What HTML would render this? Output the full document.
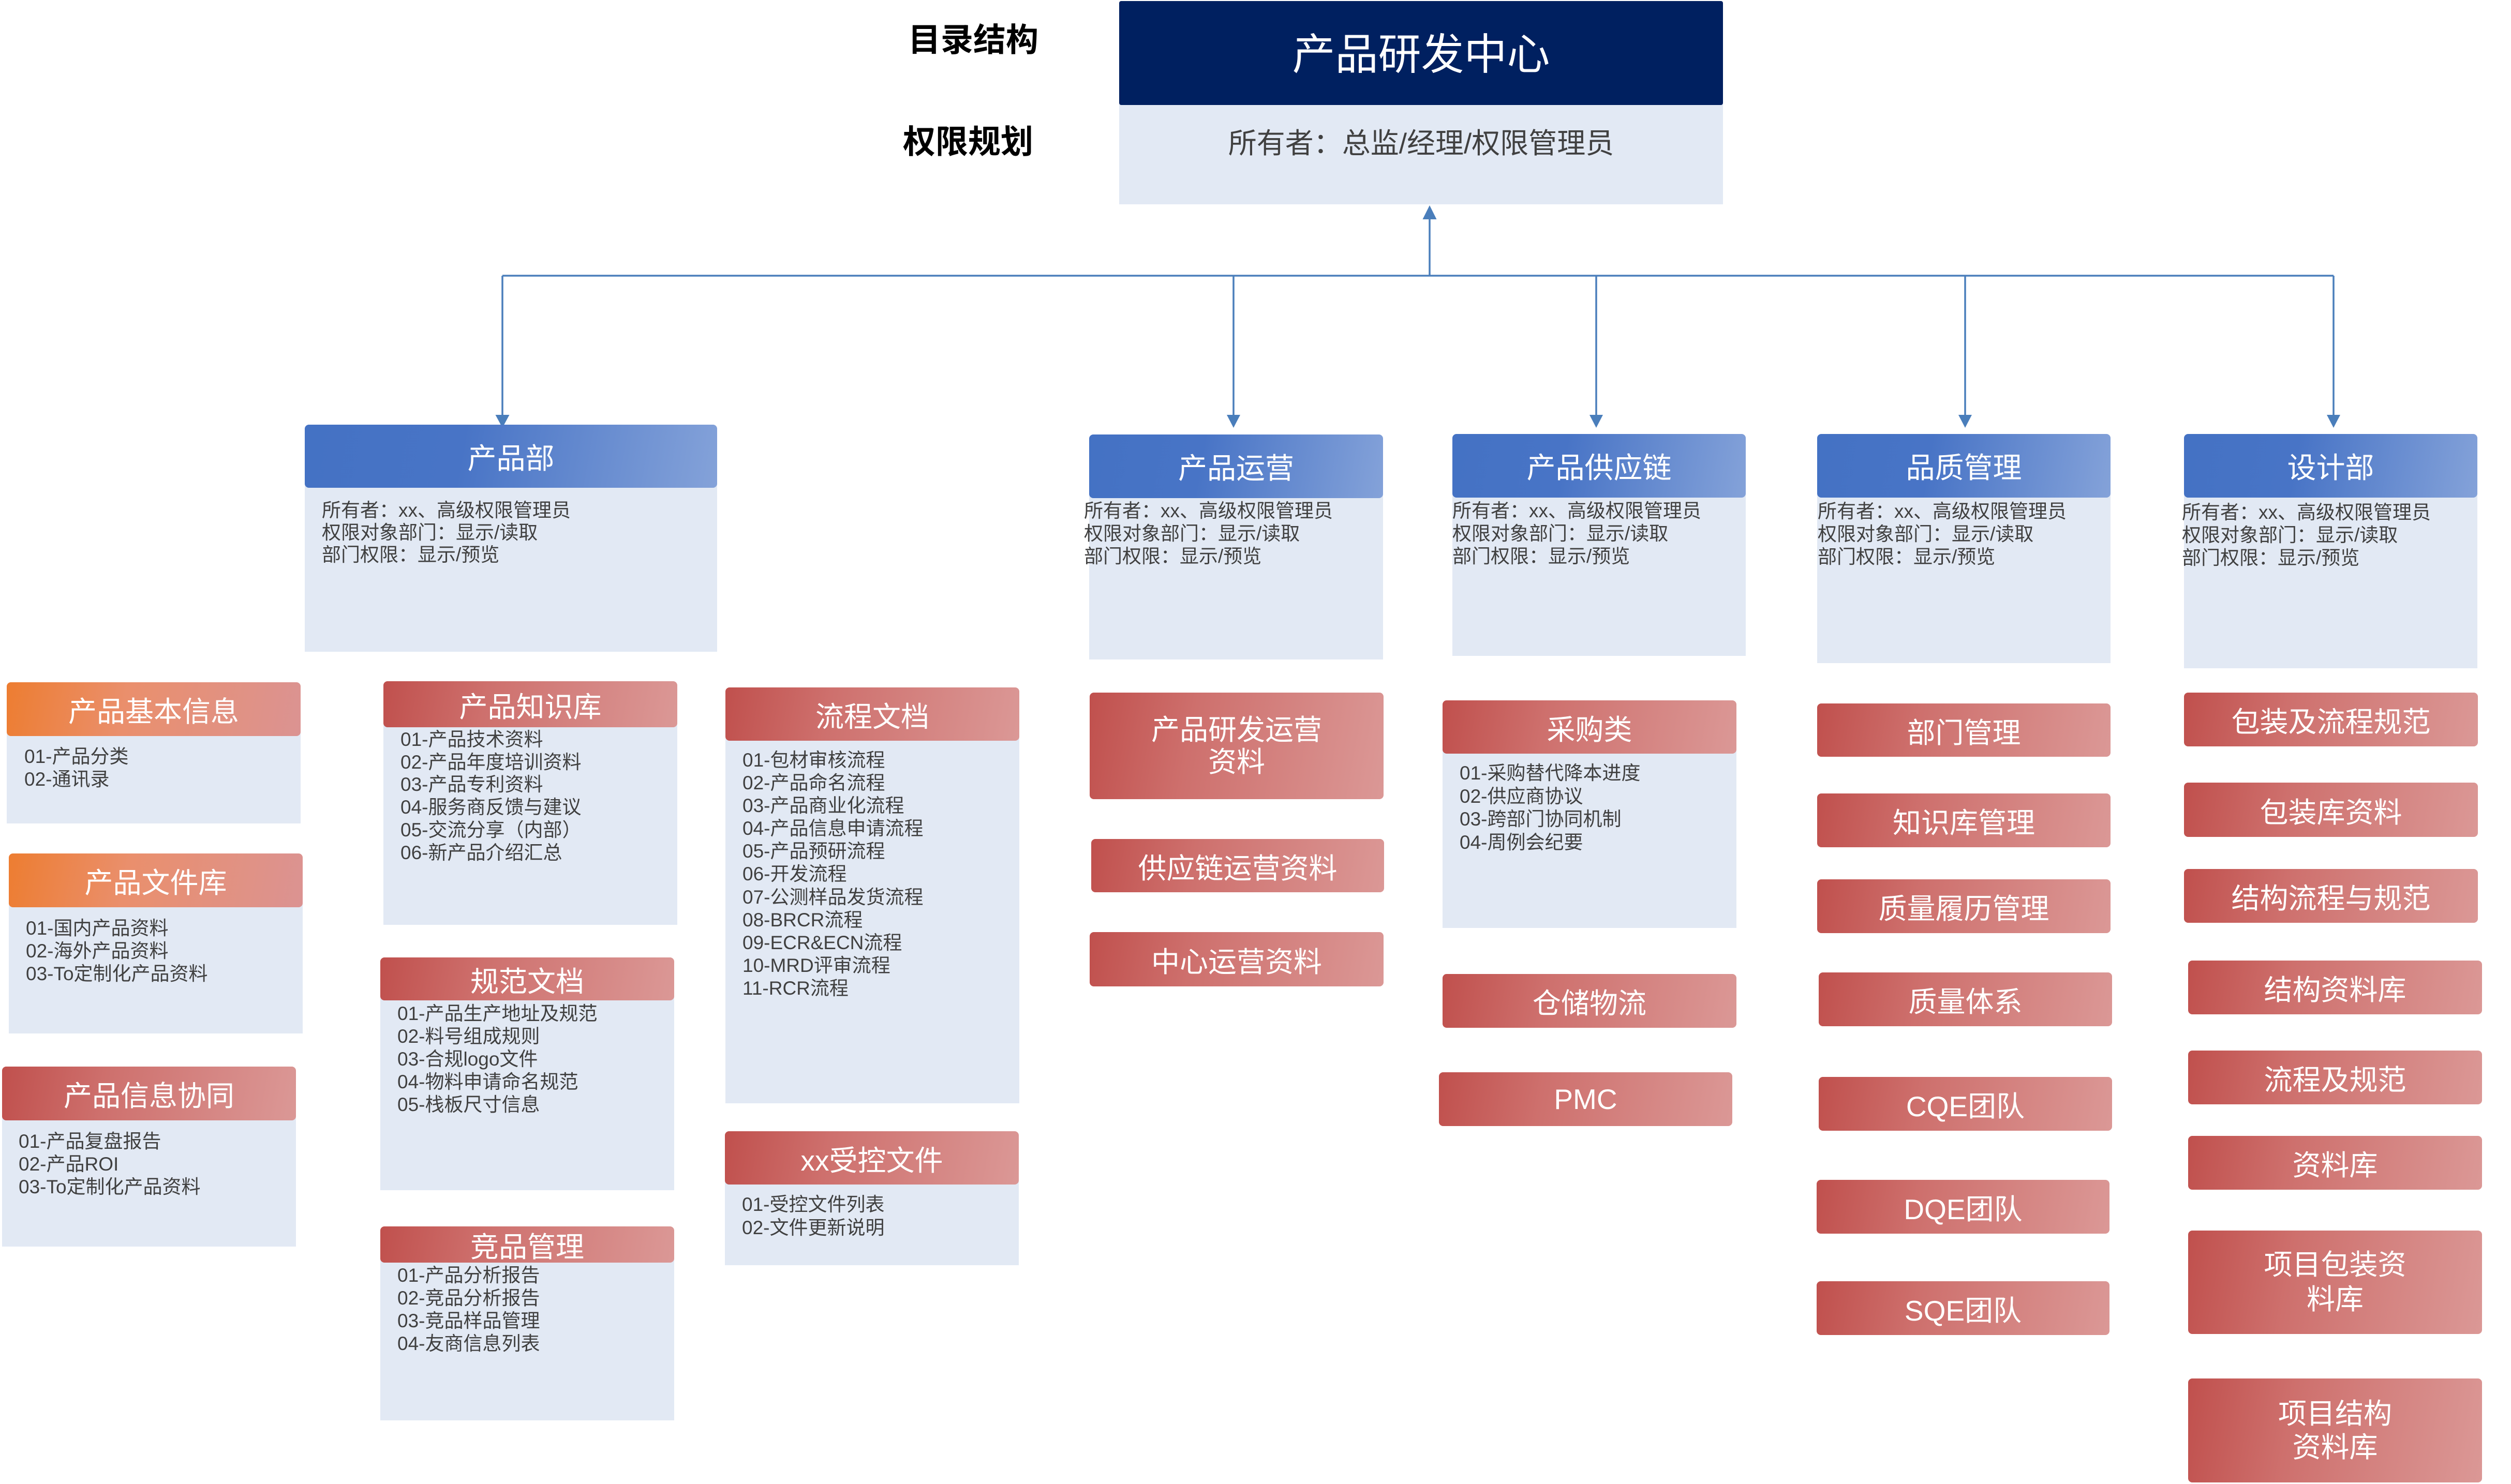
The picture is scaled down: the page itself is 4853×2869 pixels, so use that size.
<!DOCTYPE html>
<html><head><meta charset="utf-8"><style>
*{margin:0;padding:0;box-sizing:border-box}
body{width:4853px;height:2869px;position:relative;overflow:hidden;background:#fff;font-family:"Liberation Sans","Noto Sans CJK SC",sans-serif}
.b{position:absolute;background:#E2E9F4}
.h{position:absolute;border-radius:8px;color:#fff;font-size:55px;display:flex;align-items:center;justify-content:center;text-align:center;white-space:nowrap}
.r{background:linear-gradient(100deg,#C0504D 0%,#CE706D 35%,#DB9896 100%)}
.o{background:linear-gradient(100deg,#ED7D31 0%,#EA8F6C 40%,#DB9392 100%)}
.bl{background:linear-gradient(100deg,#4472C4 0%,#4874C6 38%,#84A2D9 100%);font-size:56px}
.t{position:absolute;font-size:37px;line-height:44px;color:#404040;white-space:pre}
.lab{position:absolute;font-size:63px;font-weight:bold;color:#000;line-height:70px;white-space:nowrap}
.two{line-height:63px}
</style></head><body>

<!-- labels -->
<div class="lab" style="left:1755px;top:43px">目录结构</div>
<div class="lab" style="left:1745px;top:240px">权限规划</div>

<!-- title -->
<div class="b" style="left:2163px;top:150px;width:1167px;height:245px"></div>
<div class="h" style="left:2163px;top:2px;width:1167px;height:201px;background:#002060;border-radius:4px;font-size:83px;padding-bottom:10px">产品研发中心</div>
<div style="position:absolute;left:2163px;top:242px;width:1167px;text-align:center;font-size:55px;line-height:70px;color:#404040;white-space:nowrap">所有者：总监/经理/权限管理员</div>

<!-- connectors -->
<svg style="position:absolute;left:0;top:0" width="4853" height="2869">
<g stroke="#4A7EBB" stroke-width="3.5" fill="none">
<line x1="971" y1="533" x2="4510" y2="533"/>
<line x1="2763" y1="533" x2="2763" y2="420"/>
<line x1="971" y1="533" x2="971" y2="805"/>
<line x1="2384" y1="533" x2="2384" y2="805"/>
<line x1="3085" y1="533" x2="3085" y2="805"/>
<line x1="3798" y1="533" x2="3798" y2="805"/>
<line x1="4510" y1="533" x2="4510" y2="805"/>
</g>
<g fill="#4A7EBB">
<polygon points="2763,397 2749.5,424 2776.5,424"/>
<polygon points="971,827 957.5,802 984.5,802"/>
<polygon points="2384,827 2371,802 2397,802"/>
<polygon points="3085,827 3072,802 3098,802"/>
<polygon points="3798,827 3785,802 3811,802"/>
<polygon points="4510,827 4497,802 4523,802"/>
</g>
</svg>

<!-- departments -->
<div class="b" style="left:589px;top:900px;width:797px;height:360px"></div>
<div class="h bl" style="left:589px;top:821px;width:797px;height:122px">产品部</div>
<div class="t" style="left:622px;top:965px;line-height:43px">所有者：xx、高级权限管理员
权限对象部门：显示/读取
部门权限：显示/预览</div>

<div class="b" style="left:2105px;top:920px;width:568px;height:355px"></div>
<div class="h bl" style="left:2105px;top:840px;width:568px;height:123px">产品运营</div>
<div class="t" style="left:2095px;top:966px;line-height:44px">所有者：xx、高级权限管理员
权限对象部门：显示/读取
部门权限：显示/预览</div>

<div class="b" style="left:2807px;top:920px;width:567px;height:348px"></div>
<div class="h bl" style="left:2807px;top:839px;width:567px;height:123px">产品供应链</div>
<div class="t" style="left:2807px;top:966px;line-height:44px">所有者：xx、高级权限管理员
权限对象部门：显示/读取
部门权限：显示/预览</div>

<div class="b" style="left:3512px;top:920px;width:567px;height:362px"></div>
<div class="h bl" style="left:3512px;top:839px;width:567px;height:123px">品质管理</div>
<div class="t" style="left:3513px;top:967px;line-height:44px">所有者：xx、高级权限管理员
权限对象部门：显示/读取
部门权限：显示/预览</div>

<div class="b" style="left:4221px;top:920px;width:567px;height:372px"></div>
<div class="h bl" style="left:4221px;top:839px;width:567px;height:123px">设计部</div>
<div class="t" style="left:4217px;top:969px;line-height:44px">所有者：xx、高级权限管理员
权限对象部门：显示/读取
部门权限：显示/预览</div>

<!-- column 1 -->
<div class="b" style="left:13px;top:1400px;width:568px;height:192px"></div>
<div class="h o" style="left:13px;top:1319px;width:568px;height:104px">产品基本信息</div>
<div class="t" style="left:47px;top:1441px">01-产品分类
02-通讯录</div>

<div class="b" style="left:17px;top:1730px;width:568px;height:268px"></div>
<div class="h o" style="left:17px;top:1650px;width:568px;height:104px">产品文件库</div>
<div class="t" style="left:50px;top:1773px">01-国内产品资料
02-海外产品资料
03-To定制化产品资料</div>

<div class="b" style="left:4px;top:2140px;width:568px;height:270px"></div>
<div class="h r" style="left:4px;top:2062px;width:568px;height:104px">产品信息协同</div>
<div class="t" style="left:36px;top:2185px">01-产品复盘报告
02-产品ROI
03-To定制化产品资料</div>

<!-- column 2 -->
<div class="b" style="left:741px;top:1390px;width:568px;height:398px"></div>
<div class="h r" style="left:741px;top:1317px;width:568px;height:89px">产品知识库</div>
<div class="t" style="left:774px;top:1408px;line-height:43.7px">01-产品技术资料
02-产品年度培训资料
03-产品专利资料
04-服务商反馈与建议
05-交流分享（内部）
06-新产品介绍汇总</div>

<div class="b" style="left:735px;top:1910px;width:568px;height:391px"></div>
<div class="h r" style="left:735px;top:1851px;width:568px;height:83px">规范文档</div>
<div class="t" style="left:768px;top:1938px">01-产品生产地址及规范
02-料号组成规则
03-合规logo文件
04-物料申请命名规范
05-栈板尺寸信息</div>

<div class="b" style="left:735px;top:2420px;width:568px;height:326px"></div>
<div class="h r" style="left:735px;top:2371px;width:568px;height:70px">竞品管理</div>
<div class="t" style="left:768px;top:2444px">01-产品分析报告
02-竞品分析报告
03-竞品样品管理
04-友商信息列表</div>

<!-- column 3 -->
<div class="b" style="left:1402px;top:1410px;width:568px;height:723px"></div>
<div class="h r" style="left:1402px;top:1329px;width:568px;height:103px">流程文档</div>
<div class="t" style="left:1435px;top:1448px;line-height:44.1px">01-包材审核流程
02-产品命名流程
03-产品商业化流程
04-产品信息申请流程
05-产品预研流程
06-开发流程
07-公测样品发货流程
08-BRCR流程
09-ECR&amp;ECN流程
10-MRD评审流程
11-RCR流程</div>

<div class="b" style="left:1401px;top:2270px;width:568px;height:176px"></div>
<div class="h r" style="left:1401px;top:2187px;width:568px;height:103px">xx受控文件</div>
<div class="t" style="left:1434px;top:2306px;line-height:45px">01-受控文件列表
02-文件更新说明</div>

<!-- 产品运营 column -->
<div class="h r two" style="left:2106px;top:1339px;width:568px;height:206px;line-height:62px">产品研发运营<br>资料</div>
<div class="h r" style="left:2109px;top:1622px;width:566px;height:103px">供应链运营资料</div>
<div class="h r" style="left:2106px;top:1802px;width:568px;height:105px">中心运营资料</div>

<!-- 供应链 column -->
<div class="b" style="left:2788px;top:1430px;width:568px;height:364px"></div>
<div class="h r" style="left:2788px;top:1354px;width:568px;height:103px">采购类</div>
<div class="t" style="left:2821px;top:1473px;line-height:44.6px">01-采购替代降本进度
02-供应商协议
03-跨部门协同机制
04-周例会纪要</div>
<div class="h r" style="left:2788px;top:1883px;width:568px;height:104px">仓储物流</div>
<div class="h r" style="left:2781px;top:2073px;width:567px;height:104px">PMC</div>

<!-- 品质 column -->
<div class="h r" style="left:3512px;top:1360px;width:567px;height:103px">部门管理</div>
<div class="h r" style="left:3512px;top:1534px;width:567px;height:104px">知识库管理</div>
<div class="h r" style="left:3512px;top:1700px;width:567px;height:104px">质量履历管理</div>
<div class="h r" style="left:3515px;top:1880px;width:567px;height:104px">质量体系</div>
<div class="h r" style="left:3515px;top:2082px;width:567px;height:104px">CQE团队</div>
<div class="h r" style="left:3511px;top:2281px;width:566px;height:104px">DQE团队</div>
<div class="h r" style="left:3511px;top:2477px;width:566px;height:104px">SQE团队</div>

<!-- 设计 column -->
<div class="h r" style="left:4221px;top:1339px;width:568px;height:104px">包装及流程规范</div>
<div class="h r" style="left:4221px;top:1513px;width:568px;height:105px">包装库资料</div>
<div class="h r" style="left:4221px;top:1680px;width:568px;height:104px">结构流程与规范</div>
<div class="h r" style="left:4229px;top:1857px;width:568px;height:104px">结构资料库</div>
<div class="h r" style="left:4229px;top:2031px;width:568px;height:104px">流程及规范</div>
<div class="h r" style="left:4229px;top:2196px;width:568px;height:104px">资料库</div>
<div class="h r two" style="left:4229px;top:2379px;width:568px;height:200px;line-height:67px">项目包装资<br>料库</div>
<div class="h r two" style="left:4229px;top:2665px;width:568px;height:201px;line-height:65px">项目结构<br>资料库</div>

</body></html>
